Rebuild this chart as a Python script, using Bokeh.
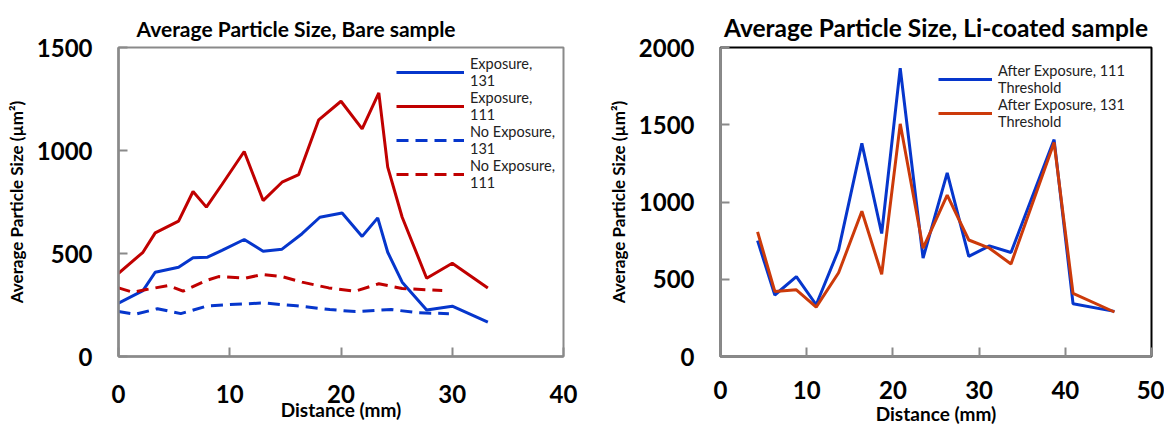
from bokeh.plotting import figure
from bokeh.layouts import row
from bokeh.models import Range1d, Legend, LegendItem, FixedTicker
from bokeh.embed import file_html
from bokeh.resources import INLINE

# ---- Bare sample data ----
exp131_x = [0, 2.2, 3.3, 5.4, 6.7, 8.0, 9.3, 11.3, 13.0, 14.7, 16.5, 18.1, 20.1, 21.9, 23.3, 24.2, 25.5, 27.7, 30.0, 33.2]
exp131_y = [259, 320, 409, 433, 479, 482, 515, 568, 511, 521, 596, 676, 697, 583, 673, 506, 361, 226, 244, 167]
exp111_x = [0, 2.2, 3.3, 5.4, 6.7, 7.9, 9.3, 11.3, 13.0, 14.7, 16.2, 18.0, 20.0, 21.9, 23.4, 24.2, 25.5, 27.7, 30.0, 33.2]
exp111_y = [404, 506, 600, 657, 801, 725, 835, 995, 757, 846, 883, 1149, 1239, 1105, 1280, 919, 676, 380, 453, 333]
noexp131_x = [0, 1.5, 3.5, 5.6, 8.0, 10.0, 13.0, 16.0, 19.0, 21.3, 24.5, 27.0, 29.7]
noexp131_y = [218, 205, 232, 208, 246, 252, 260, 246, 228, 218, 228, 212, 208]
noexp111_x = [0, 1.3, 2.4, 4.5, 5.8, 7.9, 9.0, 11.4, 12.9, 14.7, 16.5, 18.9, 21.3, 23.4, 25.5, 29.1]
noexp111_y = [333, 312, 324, 345, 317, 369, 388, 380, 398, 388, 361, 333, 317, 353, 330, 320]

# ---- Li-coated sample data ----
li_x = [4.3, 6.3, 8.8, 11.1, 13.7, 16.4, 18.7, 20.85, 23.5, 26.3, 28.8, 31.2, 33.7, 38.7, 40.9, 45.7]
li111_y = [750, 398, 517, 335, 690, 1379, 796, 1866, 637, 1188, 648, 716, 673, 1404, 341, 292]
li131_y = [807, 421, 432, 320, 542, 940, 532, 1506, 701, 1044, 754, 701, 599, 1385, 408, 288]

left_xticks = [0, 10, 20, 30, 40]
left_yticks = [0, 500, 1000, 1500]
right_xticks = [0, 10, 20, 30, 40, 50]
right_yticks = [0, 500, 1000, 1500, 2000]

FONT = "Lato"
BLUE = "#0636CC"
RED = "#C00000"
ORANGE = "#CC3A0A"
GRAY = "#8A8A8A"


def style(p, xticks, yticks, outline):
    p.title.text_font = FONT
    p.title.text_font_size = "21px"
    p.title.text_font_style = "bold"
    p.title.text_color = "black"
    p.title.standoff = 14
    p.xgrid.visible = False
    p.ygrid.visible = False
    p.outline_line_color = outline
    p.outline_line_width = 2
    p.xaxis.ticker = FixedTicker(ticks=xticks)
    p.yaxis.ticker = FixedTicker(ticks=yticks)
    for ax in (p.xaxis[0], p.yaxis[0]):
        ax.axis_line_color = GRAY
        ax.axis_line_width = 2.5
        ax.major_tick_in = 9
        ax.major_tick_out = 0
        ax.major_tick_line_color = GRAY
        ax.major_tick_line_width = 2
        ax.minor_tick_line_color = None
        ax.major_label_text_font = FONT
        ax.major_label_text_font_size = "24px"
        ax.major_label_text_font_style = "bold"
        ax.major_label_text_color = "black"
        ax.axis_label_text_font = FONT
        ax.axis_label_text_font_style = "bold"
        ax.axis_label_text_color = "black"
    p.yaxis.major_label_standoff = 26
    p.xaxis.axis_label_text_font_size = "19px"
    p.yaxis.axis_label_text_font_size = "17px"
    p.yaxis.axis_label_standoff = 7


# ---------- Left figure ----------
p1 = figure(width=600, height=430, output_backend="svg", toolbar_location=None,
            x_range=Range1d(0, 40), y_range=Range1d(0, 1500),
            title="Average Particle Size, Bare sample",
            x_axis_label="Distance (mm)", y_axis_label="Average Particle Size (µm²)",
            min_border_left=118, min_border_right=37, min_border_top=47, min_border_bottom=74)
style(p1, left_xticks, left_yticks, GRAY)
p1.title.align = "left"
p1.title.offset = 18
p1.xaxis.major_label_standoff = 28
p1.xaxis.axis_label_standoff = -8

r1 = p1.line(exp131_x, exp131_y, line_color=BLUE, line_width=3)
r2 = p1.line(exp111_x, exp111_y, line_color=RED, line_width=3)
r3 = p1.line(noexp131_x, noexp131_y, line_color=BLUE, line_width=3, line_dash="12 7")
r4 = p1.line(noexp111_x, noexp111_y, line_color=RED, line_width=3, line_dash="12 7")

leg1 = Legend(items=[
    LegendItem(label="Exposure,\n131", renderers=[r1]),
    LegendItem(label="Exposure,\n111", renderers=[r2]),
    LegendItem(label="No Exposure,\n131", renderers=[r3]),
    LegendItem(label="No Exposure,\n111", renderers=[r4]),
], location=(278, 165))

# ---------- Right figure ----------
p2 = figure(width=564, height=430, output_backend="svg", toolbar_location=None,
            x_range=Range1d(0, 50), y_range=Range1d(0, 2000),
            title="Average Particle Size, Li-coated sample",
            x_axis_label="Distance (mm)", y_axis_label="Average Particle Size (µm²)",
            min_border_left=120, min_border_right=13, min_border_top=47, min_border_bottom=68)
style(p2, right_xticks, right_yticks, "black")
p2.title.align = "center"
p2.title.text_font_size = "24.5px"
p2.title.standoff = 12
p2.xaxis.major_label_standoff = 24
p2.xaxis.axis_label_standoff = 0

s1 = p2.line(li_x, li111_y, line_color=BLUE, line_width=3)
s2 = p2.line(li_x, li131_y, line_color=ORANGE, line_width=3)

leg2 = Legend(items=[
    LegendItem(label="After Exposure, 111\nThreshold", renderers=[s1]),
    LegendItem(label="After Exposure, 131\nThreshold", renderers=[s2]),
], location=(218, 226))

for lg, gw in ((leg1, 68), (leg2, 54)):
    lg.glyph_width = gw
    lg.label_standoff = 6
    lg.label_text_font = FONT
    lg.label_text_font_size = "14.5px"
    lg.label_text_line_height = 1.3
    lg.label_text_color = "#222222"
    lg.padding = 0
    lg.margin = 0
    lg.spacing = 0
    lg.border_line_alpha = 0
    lg.background_fill_alpha = 0

p1.add_layout(leg1)
p2.add_layout(leg2)

layout = row(p1, p2)
open("out.html", "w").write(file_html(layout, INLINE))
